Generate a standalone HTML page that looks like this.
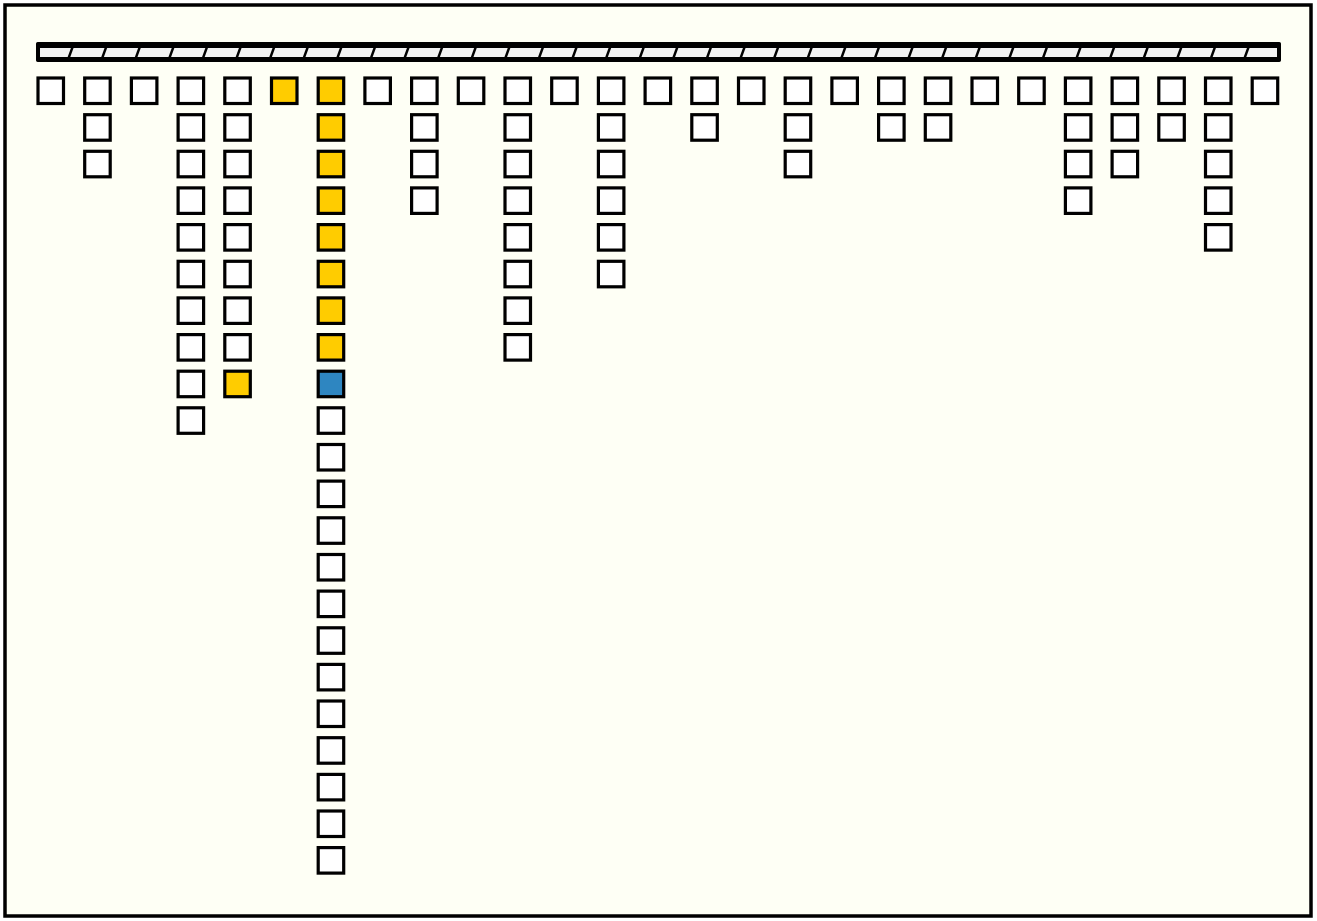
<!DOCTYPE html>
<html><head><meta charset="utf-8"><style>
html,body{margin:0;padding:0;background:#fff;}
svg{display:block}
</style></head><body>
<svg id="s" width="1317" height="921" xmlns="http://www.w3.org/2000/svg">
<rect x="5" y="5" width="1306" height="911" fill="#fefff5" stroke="#000" stroke-width="3.5"/>
<rect x="36" y="42" width="1245" height="20" rx="2" fill="#000"/>
<rect x="40" y="48" width="1237" height="9" fill="#f2f2f2"/>
<g id="g"></g>
</svg>
<script>
var g=document.getElementById('g'),h='';
for(var i=1;i<37;i++){var x=37+i*33.6;h+='<line x1="'+(x+2)+'" y1="47" x2="'+(x-2)+'" y2="58" stroke="#000" stroke-width="2.5"/>';}
var counts=[1,3,1,10,9,1,22,1,4,1,8,1,6,1,2,1,3,1,2,2,1,1,4,3,2,5,1];
for(var c=0;c<counts.length;c++){var x=38+c*46.7;for(var r=0;r<counts[c];r++){var y=78+r*36.65;var f='#fff';
if(c==5)f='#ffcc00';if(c==4&&r==8)f='#ffcc00';if(c==6&&r<8)f='#ffcc00';if(c==6&&r==8)f='#2e86c1';
h+='<rect x="'+x.toFixed(1)+'" y="'+y.toFixed(1)+'" width="25.5" height="25.5" fill="'+f+'" stroke="#000" stroke-width="3.2"/>';}}
g.innerHTML=h;
</script>
</body></html>
